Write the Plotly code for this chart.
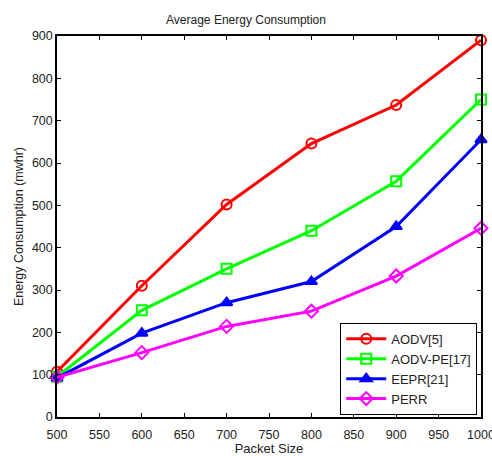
import plotly.graph_objects as go

packet_size = [500, 600, 700, 800, 900, 1000]
aodv = [107, 310, 502, 646, 737, 890]
aodv_pe = [95, 252, 350, 440, 557, 750]
eepr = [92, 198, 270, 320, 450, 655]
perr = [94, 152, 214, 250, 333, 446]

series = [
    ("AODV[5]", aodv, "#ff0000", "circle-open"),
    ("AODV-PE[17]", aodv_pe, "#00ff00", "square-open"),
    ("EEPR[21]", eepr, "#0000ff", "triangle-up"),
    ("PERR", perr, "#ff00ff", "diamond-open"),
]

fig = go.Figure()
for name, vals, color, sym in series:
    fig.add_trace(go.Scatter(
        x=packet_size, y=vals, name=name, mode="lines+markers",
        line=dict(color=color, width=3),
        marker=dict(symbol=sym, size=10, color=color, line=dict(color=color, width=2)),
        cliponaxis=False,
    ))

font = "Liberation Sans, Arial, sans-serif"
fig.update_layout(
    width=492, height=456,
    margin=dict(l=57, r=11, t=36, b=39),
    paper_bgcolor="white", plot_bgcolor="white",
    font=dict(family=font, size=12, color="#222"),
    title=dict(text="Average Energy Consumption", x=0.5, xanchor="center",
               y=1 - 20 / 456, yanchor="middle", font=dict(size=12, family=font, color="#222")),
    showlegend=True,
    legend=dict(x=0.668, y=0.247, xanchor="left", yanchor="top",
                bgcolor="white", bordercolor="black", borderwidth=1,
                font=dict(size=13, family=font, color="#222"),
                tracegroupgap=0, itemwidth=40),
    xaxis=dict(range=[500, 1000], dtick=50, tick0=500, showgrid=False, zeroline=False,
               showline=True, linecolor="black", linewidth=1.5, mirror="ticks",
               ticks="inside", ticklen=4, tickcolor="black", ticklabeloverflow="allow",
               automargin=False, ticklabelstandoff=5,
               title=dict(text="Packet Size", standoff=2, font=dict(size=13, family=font)),
               tickfont=dict(size=12.5, family=font)),
    yaxis=dict(range=[0, 900], dtick=100, tick0=0, showgrid=False, zeroline=False,
               showline=True, linecolor="black", linewidth=1.5, mirror="ticks",
               ticks="inside", ticklen=4, tickcolor="black", ticklabeloverflow="allow",
               automargin=False,
               title=dict(text="Energy Consumption (mwhr)", standoff=6, font=dict(size=12.5, family=font)),
               tickfont=dict(size=12.5, family=font)),
)

fig.write_html("out.html")
